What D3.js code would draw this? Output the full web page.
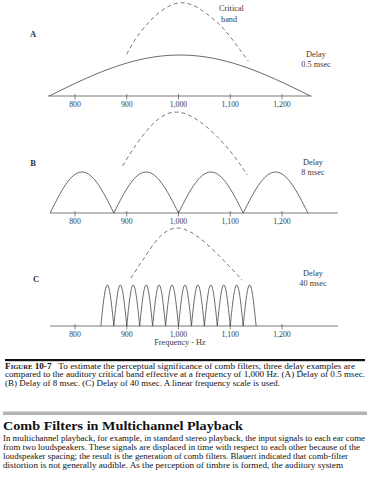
<!DOCTYPE html>
<html lang="en">
<head>
<meta charset="UTF-8">
<title>Comb filters vs critical band</title>
<script src="https://d3js.org/d3.v7.min.js"></script>
<style>
  body { margin: 0; background: #fff; }
  svg text { font-family: "Liberation Serif", "Times New Roman", serif; }
</style>
</head>
<body>
<div id="chart"></div>
<script>
// ---- data ----
const tickValues = [800, 900, 1000, 1100, 1200];
const panelNames = ["A", "B", "C"];
const delayLabels = ["0.5 msec", "8 msec", "40 msec"];
// frequency span of each baseline (Hz)
const axisEnds = [[748, 1257], [752, 1308], [752, 1308]];
// zero crossings of the comb response (Hz)
const lobesA = [750, 1255];
const lobesB = [752, 875, 1000, 1125, 1250];
const lobesC = [850, 875, 900, 925, 950, 975, 1000, 1025, 1050, 1075, 1100, 1125, 1150];
// dashed critical band, [Hz, height relative to comb peak]
const bandA = [[900, 1.02], [933, 1.66], [1000, 2.27], [1062, 1.93], [1094, 1.54], [1135, 0.85]];
const bandB = [[892, 1.15], [935, 1.95], [1000, 2.46], [1081, 1.78], [1133, 0.93]];
const bandC = [[908, 1.17], [940, 1.78], [1000, 2.39], [1081, 1.68], [1123, 1.12]];

const captionLines = [
  "To estimate the perceptual significance of comb filters, three delay examples are",
  "compared to the auditory critical band effective at a frequency of 1,000 Hz. (A) Delay of 0.5 msec.",
  "(B) Delay of 8 msec. (C) Delay of 40 msec. A linear frequency scale is used."
];
const heading = "Comb Filters in Multichannel Playback";
const bodyLines = [
  "In multichannel playback, for example, in standard stereo playback, the input signals to each ear come",
  "from two loudspeakers. These signals are displaced in time with respect to each other because of the",
  "loudspeaker spacing; the result is the generation of comb filters. Blauert indicated that comb-filter",
  "distortion is not generally audible. As the perception of timbre is formed, the auditory system"
];

const width = 370, height = 480;
const svg = d3.select("#chart").append("svg")
  .attr("width", width)
  .attr("height", height);

const x = d3.scaleLinear().domain([800, 1200]).range([75, 282]);
const baseY = [96, 213, 326];
const letterY = [37, 166, 282];
const letterX = [33, 33, 36];
const delayY = [57, 165, 276];
const delayX = [316, 313, 313];
const unit = 41; // px for comb peak
const lobeSets = [lobesA, lobesB, lobesC];
const bandSets = [bandA, bandB, bandC];
const ink = "#3a3a3a";

panelNames.forEach(function(name, i) {
  const y = d3.scaleLinear().domain([0, 1]).range([baseY[i], baseY[i] - unit]);
  const g = svg.append("g");

  // baseline
  g.append("line")
    .attr("x1", x(axisEnds[i][0])).attr("x2", x(axisEnds[i][1]))
    .attr("y1", baseY[i]).attr("y2", baseY[i])
    .attr("stroke", "#555").attr("stroke-width", 0.8);

  // ticks + labels
  g.selectAll(".tick").data(tickValues).enter().append("line")
    .attr("x1", d => x(d)).attr("x2", d => x(d))
    .attr("y1", baseY[i] - 2).attr("y2", baseY[i] + 3.5)
    .attr("stroke", "#555").attr("stroke-width", 0.7);
  g.selectAll(".tl").data(tickValues).enter().append("text")
    .attr("x", d => x(d)).attr("y", baseY[i] + 11)
    .attr("text-anchor", "middle")
    .attr("font-size", 7.8).attr("fill", ink)
    .text(d => d3.format(",")(d));

  // comb lobes (half sine arches between zeros)
  const lobes = lobeSets[i];
  const line = d3.line().x(d => x(d[0])).y(d => y(d[1]));
  const pts = [];
  for (let k = 0; k < lobes.length - 1; k++) {
    const f0 = lobes[k], f1 = lobes[k + 1];
    for (let s = 0; s <= 30; s++) {
      const t = s / 30;
      pts.push([f0 + t * (f1 - f0), Math.sin(Math.PI * t)]);
    }
  }
  g.append("path").attr("d", line(pts))
    .attr("fill", "none").attr("stroke", "#444").attr("stroke-width", 0.8);

  // critical band
  const bandLine = d3.line().x(d => x(d[0])).y(d => y(d[1])).curve(d3.curveNatural);
  g.append("path").attr("d", bandLine(bandSets[i]))
    .attr("fill", "none").attr("stroke", "#555").attr("stroke-width", 0.8)
    .attr("stroke-dasharray", "4,3");

  // panel letter
  g.append("text")
    .attr("x", letterX[i]).attr("y", letterY[i])
    .attr("text-anchor", "middle")
    .attr("font-size", 8.5).attr("font-weight", "bold").attr("fill", "#333")
    .text(name);

  // delay label
  const dl = g.append("text")
    .attr("text-anchor", "middle").attr("font-size", 8.3).attr("fill", ink);
  dl.append("tspan").attr("x", delayX[i]).attr("y", delayY[i]).text("Delay");
  dl.append("tspan").attr("x", delayX[i]).attr("dy", 9.5).text(delayLabels[i]);
});

// critical band label
const cb = svg.append("text").attr("font-size", 8.3).attr("fill", ink);
cb.append("tspan").attr("x", 219).attr("y", 11).text("Critical");
cb.append("tspan").attr("x", 221).attr("y", 21.5).text("band");

svg.append("text")
  .attr("x", 180).attr("y", 345)
  .attr("text-anchor", "middle")
  .attr("font-size", 8.3).attr("fill", ink)
  .text("Frequency - Hz");

// caption block
svg.append("rect").attr("x", 5).attr("y", 359).attr("width", 360).attr("height", 2.2).attr("fill", "#111");

const capWidths = [350, 360, 275];
const cap0 = svg.append("text").attr("x", 5).attr("y", 368.5)
  .attr("font-size", 8.4).attr("fill", "#111");
cap0.append("tspan").attr("font-weight", "bold").attr("font-variant", "small-caps").text("Figure 10-7");
cap0.append("tspan").text("\u2002 " + captionLines[0]);
cap0.attr("textLength", capWidths[0]).attr("lengthAdjust", "spacingAndGlyphs");

[1, 2].forEach(function(k) {
  svg.append("text")
    .attr("x", 5).attr("y", 368.5 + k * 8.8)
    .attr("font-size", 8.4).attr("fill", "#111")
    .attr("textLength", capWidths[k]).attr("lengthAdjust", "spacingAndGlyphs")
    .text(captionLines[k]);
});

svg.append("rect").attr("x", 3).attr("y", 411.5).attr("width", 364).attr("height", 3.5).attr("fill", "#b4b4b4");

svg.append("text")
  .attr("x", 3).attr("y", 430)
  .attr("font-size", 13.5).attr("font-weight", "bold").attr("fill", "#111")
  .attr("textLength", 240).attr("lengthAdjust", "spacingAndGlyphs")
  .text(heading);

const bodyWidths = [362, 357, 345, 340];
bodyLines.forEach(function(t, k) {
  svg.append("text")
    .attr("x", 3).attr("y", 441 + k * 9)
    .attr("font-size", 8.5).attr("fill", "#111")
    .attr("textLength", bodyWidths[k]).attr("lengthAdjust", "spacingAndGlyphs")
    .text(t);
});
</script>
</body>
</html>
